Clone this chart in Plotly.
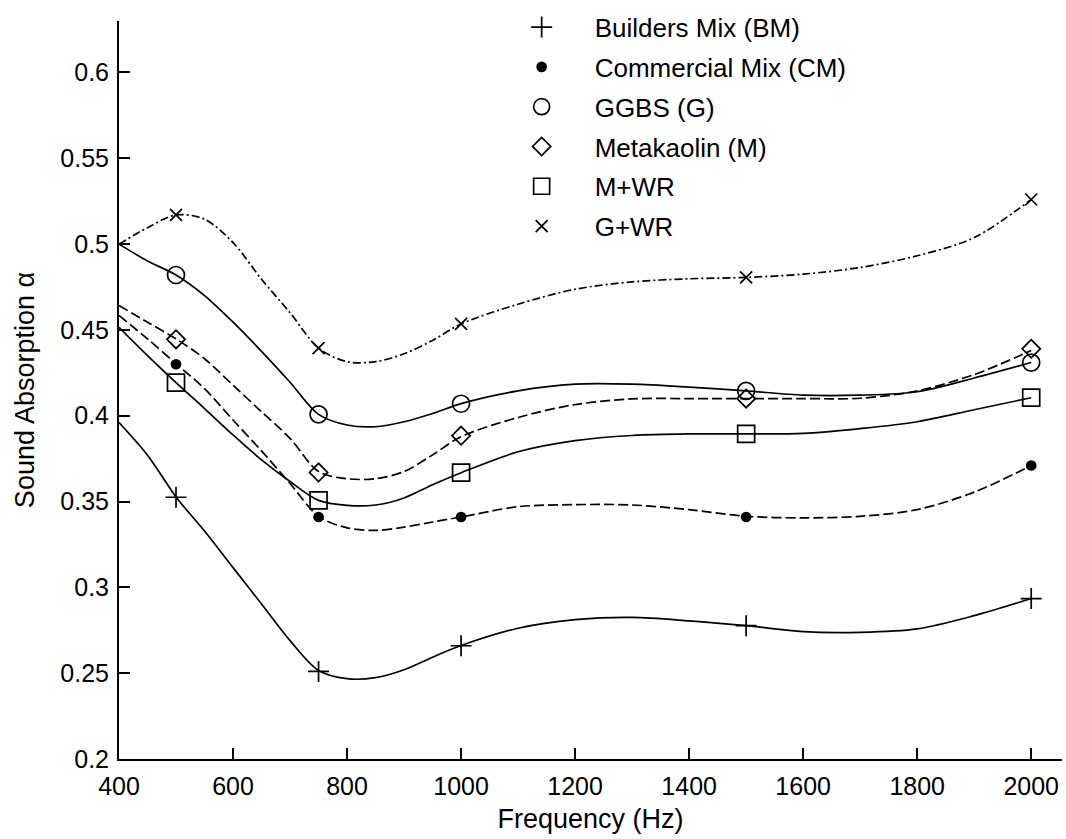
import plotly.graph_objects as go

# Measured points
freq_pts = [500, 750, 1000, 1500, 2000]
bm_pts = [0.3525, 0.251, 0.266, 0.2777, 0.2935]
cm_pts = [0.430, 0.341, 0.341, 0.341, 0.371]
ggbs_pts = [0.482, 0.4008, 0.407, 0.4145, 0.431]
meta_pts = [0.4445, 0.367, 0.3884, 0.410, 0.439]
mwr_pts = [0.4193, 0.3507, 0.3668, 0.3894, 0.4105]
gwr_pts = [0.517, 0.4394, 0.4535, 0.4806, 0.526]

# Smooth fitted curves
freq_curve = [400, 450, 500, 550, 600, 650, 700, 750, 800, 850, 900, 950, 1000,
              1100, 1200, 1300, 1400, 1500, 1600, 1700, 1800, 1900, 2000]
bm_curve = [0.396, 0.377, 0.3527, 0.3328, 0.3115, 0.2903, 0.269, 0.2516, 0.2468, 0.2474,
            0.252, 0.2593, 0.2661, 0.2762, 0.2812, 0.2825, 0.2805, 0.2777, 0.2742, 0.2738,
            0.2758, 0.2835, 0.2935]
cm_curve = [0.4584, 0.4448, 0.4303, 0.4158, 0.3975, 0.3795, 0.3605, 0.3414, 0.3347, 0.3332,
            0.3351, 0.3381, 0.341, 0.347, 0.3482, 0.348, 0.3453, 0.3414, 0.3405, 0.3414,
            0.3453, 0.3555, 0.371]
ggbs_curve = [0.5, 0.4902, 0.482, 0.47, 0.4545, 0.4375, 0.4195, 0.4008, 0.3946, 0.3936,
              0.3965, 0.4013, 0.4071, 0.4145, 0.4184, 0.4184, 0.4167, 0.4145, 0.412, 0.412,
              0.414, 0.422, 0.431]
meta_curve = [0.4642, 0.4545, 0.4448, 0.4332, 0.4178, 0.4023, 0.3868, 0.3675, 0.3633, 0.3633,
              0.3675, 0.3772, 0.3878, 0.399, 0.4065, 0.4098, 0.41, 0.41, 0.41, 0.4102,
              0.4145, 0.424, 0.438]
mwr_curve = [0.4515, 0.435, 0.4193, 0.4042, 0.3888, 0.3743, 0.3617, 0.3507, 0.3478, 0.348,
             0.3521, 0.3598, 0.3668, 0.379, 0.3855, 0.3885, 0.3894, 0.3894, 0.3897, 0.3925,
             0.3965, 0.4035, 0.4105]
gwr_curve = [0.5, 0.5096, 0.517, 0.5145, 0.5009, 0.4795, 0.460, 0.4394, 0.4315, 0.4315,
             0.4361, 0.4439, 0.4535, 0.465, 0.4737, 0.478, 0.4798, 0.4806, 0.4825, 0.4864,
             0.4932, 0.5038, 0.526]

names = ["Builders Mix (BM)", "Commercial Mix (CM)", "GGBS (G)", "Metakaolin (M)", "M+WR", "G+WR"]

x_ticks = [400, 600, 800, 1000, 1200, 1400, 1600, 1800, 2000]
y_ticks = [0.2, 0.25, 0.3, 0.35, 0.4, 0.45, 0.5, 0.55, 0.6]
y_ticktext = ["0.2", "0.25", "0.3", "0.35", "0.4", "0.45", "0.5", "0.55", "0.6"]

series = [
    (names[0], bm_curve, bm_pts, "solid", dict(symbol="cross-thin-open", size=15)),
    (names[1], cm_curve, cm_pts, "10px,4px", dict(symbol="circle", size=9)),
    (names[2], ggbs_curve, ggbs_pts, "solid", dict(symbol="circle-open", size=17)),
    (names[3], meta_curve, meta_pts, "10px,4px", dict(symbol="diamond-open", size=14)),
    (names[4], mwr_curve, mwr_pts, "solid", dict(symbol="square-open", size=17)),
    (names[5], gwr_curve, gwr_pts, "8px,3px,2px,3px", dict(symbol="x-thin-open", size=12)),
]

fig = go.Figure()
for i, (name, curve, pts, dash, mk) in enumerate(series):
    fig.add_trace(go.Scatter(
        x=freq_curve, y=curve, mode="lines", showlegend=False, hoverinfo="skip",
        line=dict(color="black", width=1.7, dash=dash, shape="spline", smoothing=0.9),
    ))
for i, (name, curve, pts, dash, mk) in enumerate(series):
    fig.add_trace(go.Scatter(
        x=freq_pts, y=pts, mode="markers", name=name, legendgroup=f"g{i}",
        marker=dict(symbol=mk["symbol"], size=mk["size"], color="black",
                    line=dict(color="black", width=1.7)),
    ))

font = "Liberation Sans, Arial, sans-serif"
fig.update_layout(
    width=1066, height=839,
    margin=dict(l=119, r=4, t=18, b=80),
    paper_bgcolor="white", plot_bgcolor="white",
    font=dict(family=font, size=25, color="black"),
    showlegend=True,
    legend=dict(x=0.392, y=1.0235, xanchor="left", yanchor="top",
                bgcolor="rgba(0,0,0,0)", borderwidth=0,
                font=dict(size=26), tracegroupgap=3, itemwidth=96),
    xaxis=dict(range=[400, 2054], tickvals=x_ticks, ticks="inside", ticklen=11,
               tickwidth=2, tickcolor="black", showline=True, linecolor="black",
               linewidth=2, showgrid=False, zeroline=False, ticklabelstandoff=4,
               tickfont=dict(size=25),
               title=dict(text="Frequency (Hz)", standoff=10, font=dict(size=27))),
    yaxis=dict(range=[0.2, 0.63], tickvals=y_ticks, ticktext=y_ticktext, ticks="inside",
               ticklen=11, tickwidth=2, tickcolor="black", showline=True,
               linecolor="black", linewidth=2, showgrid=False, zeroline=False,
               ticklabelstandoff=3, tickfont=dict(size=25),
               title=dict(text="Sound Absorption α", standoff=18, font=dict(size=27))),
)

fig.write_html("out.html")
